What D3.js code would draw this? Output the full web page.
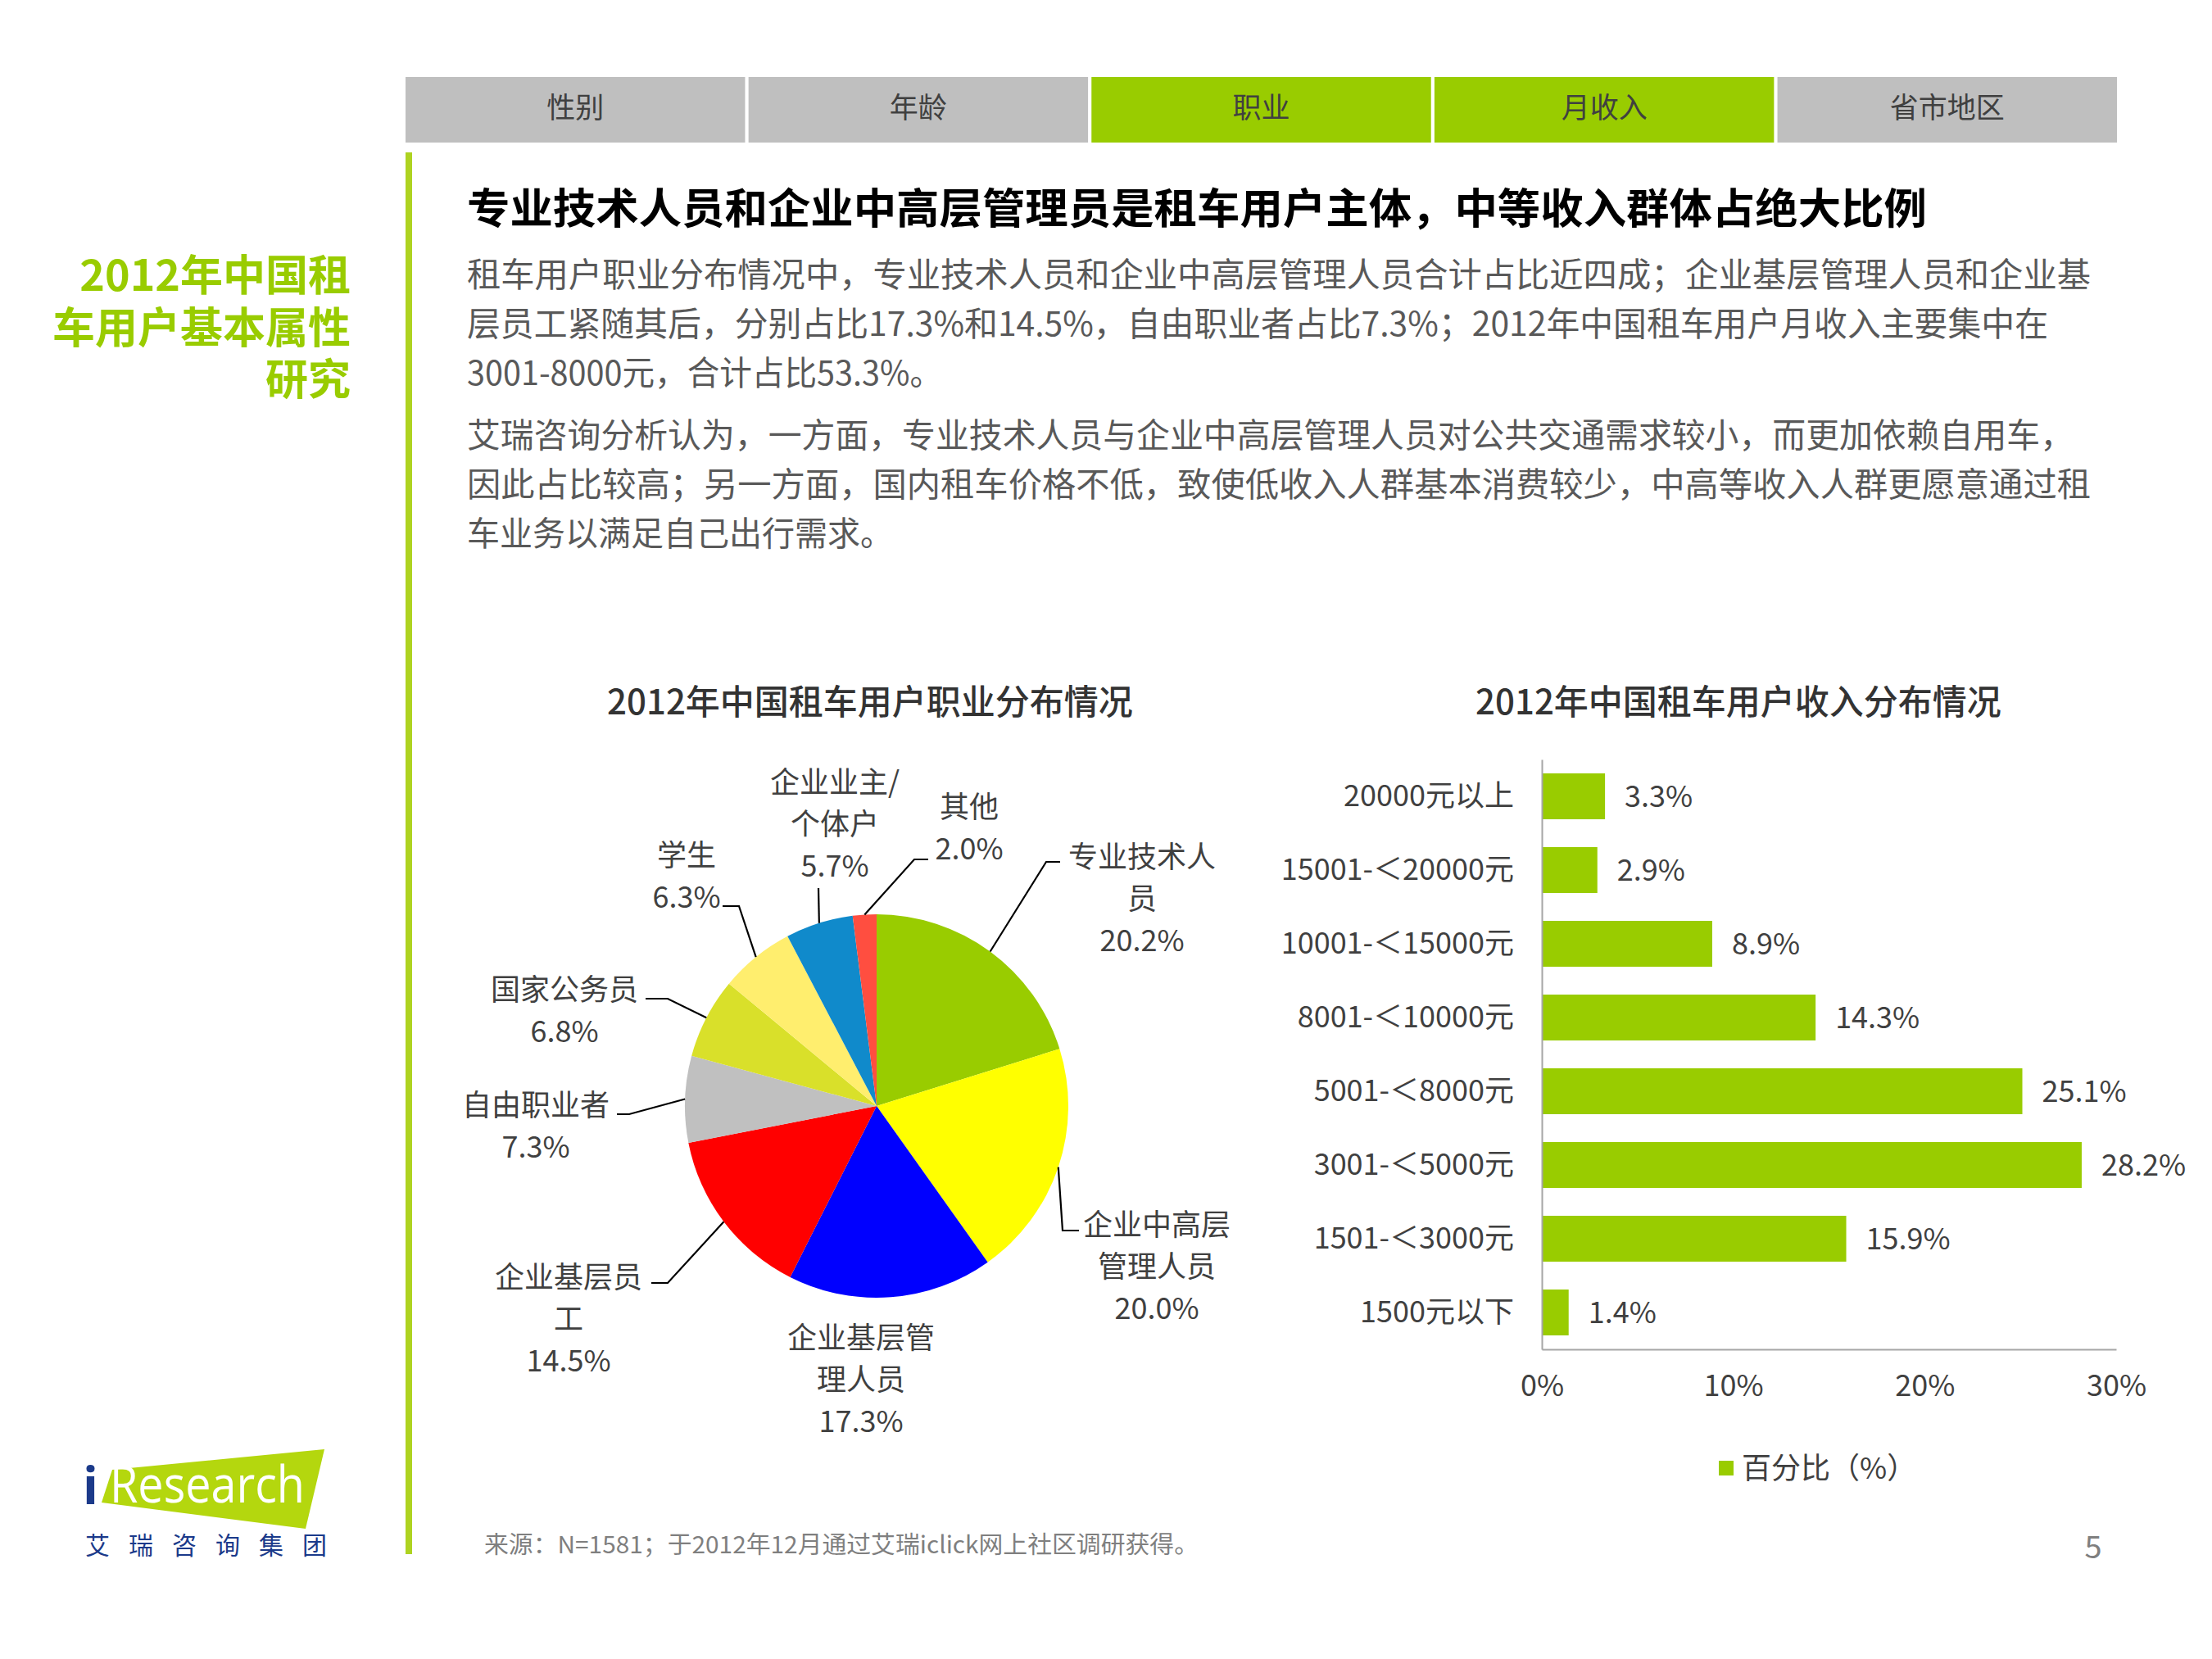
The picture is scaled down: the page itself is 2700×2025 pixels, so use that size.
<!DOCTYPE html>
<html><head><meta charset="utf-8">
<script src="https://cdn.jsdelivr.net/npm/d3@7/dist/d3.min.js"></script>
<style>
body{margin:0;background:#fff}
svg{display:block}
text{font-family:"Noto Sans CJK SC","Noto Sans",sans-serif}
</style>
</head><body>
<svg id="c" width="2700" height="2025"></svg>
<script>
// ---------- data ----------
const tabs = ["性别","年龄","职业","月收入","省市地区"];
const activeTabs = ["职业","月收入"];
const sideTitle = ["2012年中国租","车用户基本属性","研究"];
const headline = "专业技术人员和企业中高层管理员是租车用户主体，中等收入群体占绝大比例";
const paragraph1 = ["租车用户职业分布情况中，专业技术人员和企业中高层管理人员合计占比近四成；企业基层管理人员和企业基",
  "层员工紧随其后，分别占比17.3%和14.5%，自由职业者占比7.3%；2012年中国租车用户月收入主要集中在",
  "3001-8000元，合计占比53.3%。"];
const paragraph2 = ["艾瑞咨询分析认为，一方面，专业技术人员与企业中高层管理人员对公共交通需求较小，而更加依赖自用车，",
  "因此占比较高；另一方面，国内租车价格不低，致使低收入人群基本消费较少，中高等收入人群更愿意通过租",
  "车业务以满足自己出行需求。"];
const pieTitle = "2012年中国租车用户职业分布情况";
const barTitle = "2012年中国租车用户收入分布情况";
const occupations = ["专业技术人员","企业中高层管理人员","企业基层管理人员","企业基层员工","自由职业者","国家公务员","学生","企业业主/个体户","其他"];
const occupationLabelLines = [["专业技术人","员"],["企业中高层","管理人员"],["企业基层管","理人员"],["企业基层员","工"],["自由职业者"],["国家公务员"],["学生"],["企业业主/","个体户"],["其他"]];
const occupationShares = [20.2,20.0,17.3,14.5,7.3,6.8,6.3,5.7,2.0];
const incomeGroups = ["20000元以上","15001-＜20000元","10001-＜15000元","8001-＜10000元","5001-＜8000元","3001-＜5000元","1501-＜3000元","1500元以下"];
const incomeShares = [3.3,2.9,8.9,14.3,25.1,28.2,15.9,1.4];
const xTicks = [0,10,20,30];
const legendLabel = "百分比（%）";
const sourceNote = "来源：N=1581；于2012年12月通过艾瑞iclick网上社区调研获得。";
const pageNumber = "5";

// ---------- styles / layout ----------
const pieColors = ["#99CC00","#FFFF00","#0000FF","#FF0000","#C0C0C0","#D9E02A","#FFEE6E","#108ACB","#FF4E40"];
const GREEN = "#99CC00";
const svg = d3.select("#c");
const fmt = d3.format(".1f");

// tabs
const tabX = d3.scaleBand().domain(tabs).range([495, 2584]).paddingInner(0.01);
const tabG = svg.append("g");
tabG.selectAll("rect").data(tabs).join("rect")
  .attr("x", d => tabX(d)).attr("y", 94).attr("width", tabX.bandwidth()).attr("height", 80)
  .attr("fill", d => activeTabs.includes(d) ? GREEN : "#BFBFBF");
tabG.selectAll("text").data(tabs).join("text")
  .attr("x", d => tabX(d) + tabX.bandwidth()/2).attr("y", 132).attr("dy", "0.35em")
  .attr("text-anchor", "middle").attr("font-size", 35).attr("fill", "#404040").text(d => d);

// vertical green rule
svg.append("rect").attr("x", 495).attr("y", 186).attr("width", 8).attr("height", 1711).attr("fill", "#AED321");

// side title (one multi-line text block)
const st = svg.append("text").attr("text-anchor", "end").attr("font-size", 52)
  .attr("font-weight", "bold").attr("fill", GREEN);
st.selectAll("tspan").data(sideTitle).join("tspan")
  .attr("x", 428).attr("y", (d,i) => 337 + i*63.5).attr("dy", "0.35em").text(d => d);

// headline
svg.append("text").attr("x", 570).attr("y", 255).attr("dy", "0.35em")
  .attr("font-size", 51).attr("font-weight", "bold").attr("fill", "#000")
  .attr("textLength", 1782).attr("lengthAdjust", "spacingAndGlyphs").text(headline);

// body paragraphs
const p1Widths = [1982, 1930, 580], p2Widths = [1961, 1982, 520];
function para(lines, widths, y0) {
  svg.append("g").selectAll("text").data(lines).join("text")
    .attr("x", 570).attr("y", (d,i) => y0 + i*59.7).attr("dy", "0.35em")
    .attr("font-size", 41).attr("fill", "#595959")
    .attr("textLength", (d,i) => widths[i]).attr("lengthAdjust", "spacingAndGlyphs").text(d => d);
}
para(paragraph1, p1Widths, 336);
para(paragraph2, p2Widths, 532);

// chart titles
svg.append("text").attr("x", 1062).attr("y", 857).attr("dy", "0.35em").attr("text-anchor", "middle")
  .attr("font-size", 42).attr("font-weight", 500).attr("fill", "#333").text(pieTitle);
svg.append("text").attr("x", 2122).attr("y", 857).attr("dy", "0.35em").attr("text-anchor", "middle")
  .attr("font-size", 42).attr("font-weight", 500).attr("fill", "#333").text(barTitle);

// ---------- pie ----------
const cx = 1070, cy = 1350, R = 234;
const pie = d3.pie().sort(null).value(d => d)(occupationShares);
const arc = d3.arc().innerRadius(0).outerRadius(R);
const edge = d3.arc().innerRadius(R).outerRadius(R);
const pg = svg.append("g").attr("transform", `translate(${cx},${cy})`);
pg.selectAll("path").data(pie).join("path").attr("d", arc).attr("fill", (d,i) => pieColors[i]);

// label placement relative to pie centre: elbow, end of horizontal tick, text centre
const labelLayout = [
  {elbow:[207,-298], end:[224,-298], text:[324,-304]},
  {elbow:[227,152],  end:[247,152],  text:[342,145]},
  {elbow:null,       end:null,       text:[-19,283]},
  {elbow:[-255,216], end:[-275,216], text:[-376,209]},
  {elbow:[-302,10],  end:[-317,10],  text:[-416,-1]},
  {elbow:[-255,-131],end:[-282,-131],text:[-381,-142]},
  {elbow:[-168,-244],end:[-188,-244],text:[-232,-306]},
  {elbow:[-71,-266], end:null,       text:[-51,-395]},
  {elbow:[46,-301],  end:[63,-301],  text:[113,-365]}
];
const lineH = 51;
pie.forEach((d,i) => {
  const L = labelLayout[i];
  if (L.elbow) {
    const pts = [edge.centroid(d), L.elbow];
    if (L.end) pts.push(L.end);
    pg.append("path").attr("d", d3.line()(pts)).attr("fill", "none").attr("stroke", "#000").attr("stroke-width", 2.2);
  }
  const lines = occupationLabelLines[i].concat([fmt(occupationShares[i]) + "%"]);
  pg.append("g").selectAll("text").data(lines).join("text")
    .attr("x", L.text[0]).attr("y", (t,k) => L.text[1] + k*lineH).attr("dy", "0.35em")
    .attr("text-anchor", "middle").attr("font-size", 36).attr("fill", "#404040").text(t => t);
});

// ---------- bar chart ----------
const x = d3.scaleLinear().domain([0, 30]).range([1882, 2583]);
const y = d3.scaleBand().domain(incomeGroups).range([927, 1647]).paddingInner(0.378).paddingOuter(0.189);
const bg = svg.append("g");
bg.selectAll("rect").data(incomeShares).join("rect")
  .attr("x", x(0)).attr("y", (d,i) => y(incomeGroups[i]))
  .attr("width", d => x(d) - x(0)).attr("height", y.bandwidth()).attr("fill", GREEN);
bg.selectAll("text.v").data(incomeShares).join("text").attr("class", "v")
  .attr("x", d => x(d) + 24).attr("y", (d,i) => y(incomeGroups[i]) + y.bandwidth()/2).attr("dy", "0.35em")
  .attr("font-size", 36).attr("fill", "#404040").text(d => fmt(d) + "%");

const yAxis = svg.append("g").attr("transform", `translate(${x(0)},0)`)
  .call(d3.axisLeft(y).tickSize(0).tickPadding(34));
yAxis.select(".domain").attr("stroke", "#A6A6A6").attr("stroke-width", 2);
yAxis.selectAll("text").attr("font-size", 36).attr("fill", "#404040")
  .style("font-family", '"Noto Sans CJK SC",sans-serif');

const xAxis = svg.append("g").attr("transform", `translate(0,${y.range()[1]})`)
  .call(d3.axisBottom(x).tickValues(xTicks).tickSize(0).tickFormat(d => d + "%"));
xAxis.select(".domain").attr("stroke", "#A6A6A6").attr("stroke-width", 2);
xAxis.selectAll("text").attr("y", 44).attr("dy", "0.35em").attr("font-size", 36).attr("fill", "#404040")
  .style("font-family", '"Noto Sans CJK SC",sans-serif');

// legend
svg.append("rect").attr("x", 2098).attr("y", 1783).attr("width", 18).attr("height", 18).attr("fill", GREEN);
svg.append("text").attr("x", 2126).attr("y", 1792).attr("dy", "0.35em").attr("font-size", 36).attr("fill", "#404040").text(legendLabel);

// ---------- footer ----------
svg.append("text").attr("x", 591).attr("y", 1886).attr("dy", "0.35em").attr("font-size", 29).attr("fill", "#7F7F7F")
  .attr("textLength", 872).attr("lengthAdjust", "spacingAndGlyphs").text(sourceNote);
svg.append("text").attr("x", 2555).attr("y", 1889).attr("dy", "0.35em").attr("text-anchor", "middle").attr("font-size", 38).attr("fill", "#7F7F7F").text(pageNumber);

// logo
const logo = svg.append("g").attr("transform", "translate(0,-6)");
logo.append("path").attr("d", d3.line()([[137,1800],[396,1775],[373,1872],[124,1840]]) + "Z").attr("fill", "#B4D70E");
logo.append("text").attr("x", 101).attr("y", 1842).attr("font-size", 62).attr("font-weight", "bold")
  .attr("fill", "#1B3A8A").style("font-family", '"Open Sans",sans-serif').text("i");
logo.append("text").attr("x", 134).attr("y", 1840).attr("font-size", 62).attr("fill", "#fff")
  .attr("textLength", 238).attr("lengthAdjust", "spacingAndGlyphs")
  .style("font-family", '"Open Sans",sans-serif').text("Research");
logo.append("g").selectAll("text").data("艾瑞咨询集团".split("")).join("text")
  .attr("x", (d,i) => 104 + i*53).attr("y", 1892).attr("dy", "0.35em").attr("font-size", 30).attr("fill", "#1B3A8A").text(d => d);
</script>
</body></html>
